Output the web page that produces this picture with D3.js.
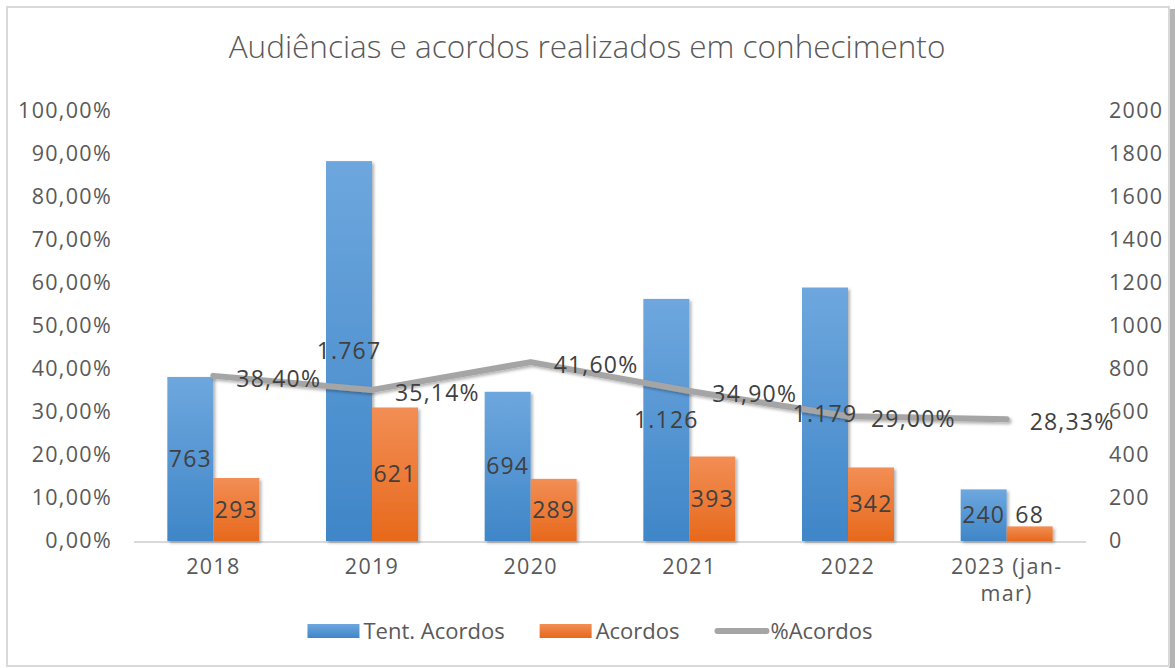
<!DOCTYPE html>
<html>
<head>
<meta charset="utf-8">
<script src="https://cdn.jsdelivr.net/npm/d3@7"></script>
<style>
    body { margin: 0; background: #ffffff; }
    text { font-family: 'Open Sans', sans-serif; }
</style>
</head>
<body>
<div id="chart"></div>
<script>
// data
const years = ['2018', '2019', '2020', '2021', '2022', '2023 (jan-mar)'];
const tentAcordos = [763, 1767, 694, 1126, 1179, 240];
const acordos = [293, 621, 289, 393, 342, 68];
const pctAcordos = [38.40, 35.14, 41.60, 34.90, 29.00, 28.33];
const pctTicks = [0, 0.1, 0.2, 0.3, 0.4, 0.5, 0.6, 0.7, 0.8, 0.9, 1];
const countTicks = [0, 200, 400, 600, 800, 1000, 1200, 1400, 1600, 1800, 2000];
const seriesNames = ['Tent. Acordos', 'Acordos', '%Acordos'];

class ComboChart {

    constructor(_config) {
        this.config = {
            parentElement: _config.parentElement,
            containerWidth: _config.width,
            containerHeight: _config.height,
        }
        this.initVis();
    }

    initVis() {
        let vis = this;
        vis.width = vis.config.containerWidth;
        vis.height = vis.config.containerHeight;
        vis.plot = { left: 134, right: 1086, top: 111, bottom: 541 };

        vis.loc = d3.formatLocale({ decimal: ',', thousands: '.', grouping: [3], currency: ['R$', ''] });
        vis.fmtInt = vis.loc.format(',d');
        vis.fmtPct = (v) => vis.loc.format('.2f')(v) + '%';

        vis.data = years.map((y, i) => ({
            year: y,
            tent: tentAcordos[i],
            acordos: acordos[i],
            pct: pctAcordos[i]
        }));

        vis.svg = d3.select(vis.config.parentElement)
            .append('svg')
            .attr('width', vis.width)
            .attr('height', vis.height);

        let defs = vis.svg.append('defs');
        vis.addGradient(defs, 'grad-blue', '#6ea7de', '#3f86c8');
        vis.addGradient(defs, 'grad-orange', '#f28e55', '#e7691c');
        let shadow = defs.append('filter')
            .attr('id', 'shadow')
            .attr('x', '-20%').attr('y', '-20%')
            .attr('width', '150%').attr('height', '150%');
        shadow.append('feDropShadow')
            .attr('dx', 2).attr('dy', 2)
            .attr('stdDeviation', 1.8)
            .attr('flood-color', '#000')
            .attr('flood-opacity', 0.3);

        // frame
        vis.svg.append('rect')
            .attr('x', 1169).attr('y', 9)
            .attr('width', 6).attr('height', vis.height)
            .attr('fill', '#b4b4b4');
        vis.svg.append('rect')
            .attr('x', 7).attr('y', 7)
            .attr('width', 1162).attr('height', 659)
            .attr('fill', '#ffffff')
            .attr('stroke', '#d9d9d9')
            .attr('stroke-width', 2);

        // scales
        vis.x = d3.scaleBand()
            .domain(years)
            .range([vis.plot.left, vis.plot.right]);
        vis.x1 = d3.scaleBand()
            .domain(['tent', 'acordos'])
            .range([0, vis.x.bandwidth()])
            .paddingInner(0)
            .paddingOuter(0.725);
        vis.yL = d3.scaleLinear()
            .domain([0, 1])
            .range([vis.plot.bottom, vis.plot.top]);
        vis.yR = d3.scaleLinear()
            .domain([0, 2000])
            .range([vis.plot.bottom, vis.plot.top]);

        vis.renderVis();
    }

    addGradient(defs, id, top, bottom) {
        let g = defs.append('linearGradient')
            .attr('id', id)
            .attr('x1', 0).attr('x2', 0)
            .attr('y1', 0).attr('y2', 1);
        g.append('stop').attr('offset', '0%').attr('stop-color', top);
        g.append('stop').attr('offset', '100%').attr('stop-color', bottom);
    }

    renderVis() {
        let vis = this;

        // title
        vis.svg.append('text')
            .attr('x', 587)
            .attr('y', 58)
            .attr('text-anchor', 'middle')
            .style('font-size', '31.5px')
            .style('font-weight', 300)
            .style('fill', '#595959')
            .text('Audiências e acordos realizados em conhecimento');

        // left axis
        let axisL = vis.svg.append('g')
            .attr('transform', `translate(${vis.plot.left},0)`)
            .call(d3.axisLeft(vis.yL).tickValues(pctTicks).tickSize(0).tickPadding(22)
                .tickFormat((d) => vis.fmtPct(d * 100)));
        // right axis
        let axisR = vis.svg.append('g')
            .attr('transform', `translate(${vis.plot.right},0)`)
            .call(d3.axisRight(vis.yR).tickValues(countTicks).tickSize(0).tickPadding(23)
                .tickFormat(d3.format('d')));
        [axisL, axisR].forEach((a) => {
            a.select('.domain').remove();
            a.selectAll('text')
                .style('font-size', '21.5px')
                .style('letter-spacing', '1.3px')
                .style('font-family', "'Open Sans', sans-serif")
                .style('fill', '#595959');
        });

        // bars
        let groups = vis.svg.selectAll('.bar-group')
            .data(vis.data)
            .enter()
            .append('g')
            .attr('class', 'bar-group')
            .attr('transform', (d) => `translate(${vis.x(d.year)},0)`);
        groups.append('rect')
            .attr('x', vis.x1('tent'))
            .attr('y', (d) => vis.yR(d.tent))
            .attr('width', vis.x1.bandwidth())
            .attr('height', (d) => vis.yR(0) - vis.yR(d.tent))
            .attr('fill', 'url(#grad-blue)')
            .attr('filter', 'url(#shadow)');
        groups.append('rect')
            .attr('x', vis.x1('acordos'))
            .attr('y', (d) => vis.yR(d.acordos))
            .attr('width', vis.x1.bandwidth())
            .attr('height', (d) => vis.yR(0) - vis.yR(d.acordos))
            .attr('fill', 'url(#grad-orange)')
            .attr('filter', 'url(#shadow)');

        // x axis line
        vis.svg.append('line')
            .attr('x1', vis.plot.left)
            .attr('x2', vis.plot.right)
            .attr('y1', vis.plot.bottom + 1)
            .attr('y2', vis.plot.bottom + 1)
            .attr('stroke', '#d9d9d9')
            .attr('stroke-width', 2);

        // category labels
        let axisX = vis.svg.append('g')
            .attr('transform', `translate(0,${vis.plot.bottom})`)
            .call(d3.axisBottom(vis.x).tickSize(0).tickPadding(18));
        axisX.select('.domain').remove();
        axisX.selectAll('text')
            .style('font-size', '21.5px')
            .style('letter-spacing', '1.3px')
            .style('font-family', "'Open Sans', sans-serif")
            .style('fill', '#595959')
            .each(function(d) {
                let parts = d.split(/(?<=-)/);
                if (parts.length < 2) return;
                let t = d3.select(this).text(null);
                parts.forEach((p, i) => {
                    t.append('tspan')
                        .attr('x', 0)
                        .attr('dy', i == 0 ? '0.71em' : '1.25em')
                        .text(p);
                });
                t.attr('dy', null);
            });

        // percentage line
        let cx = (d) => vis.x(d.year) + vis.x.bandwidth() / 2;
        let line = d3.line()
            .x((d) => cx(d))
            .y((d) => vis.yL(d.pct / 100));
        vis.svg.append('path')
            .datum(vis.data)
            .attr('d', line)
            .attr('fill', 'none')
            .attr('stroke', '#a5a5a5')
            .attr('stroke-width', 6)
            .attr('stroke-linecap', 'round')
            .attr('stroke-linejoin', 'round')
            .attr('filter', 'url(#shadow)');

        // bar labels (drawn over the line, like the original)
        let labelY = (v) => Math.min((vis.yR(v) + vis.yR(0)) / 2, vis.plot.bottom - 26);
        groups.raise();
        groups.append('text')
            .attr('x', vis.x1('tent') + vis.x1.bandwidth() / 2)
            .attr('y', (d) => labelY(d.tent))
            .attr('dy', '0.35em')
            .attr('text-anchor', 'middle')
            .style('font-size', '23px')
            .style('letter-spacing', '1.2px')
            .style('fill', '#404040')
            .text((d) => vis.fmtInt(d.tent));
        groups.append('text')
            .attr('x', vis.x1('acordos') + vis.x1.bandwidth() / 2)
            .attr('y', (d) => labelY(d.acordos))
            .attr('dy', '0.35em')
            .attr('text-anchor', 'middle')
            .style('font-size', '23px')
            .style('letter-spacing', '1.2px')
            .style('fill', '#404040')
            .text((d) => vis.fmtInt(d.acordos));
        // keep bars under the line: move rects into a lower layer
        let barLayer = vis.svg.insert('g', 'path');
        groups.each(function() {
            let g = d3.select(this);
            let sub = barLayer.append('g').attr('transform', g.attr('transform'));
            g.selectAll('rect').each(function() { sub.node().appendChild(this); });
        });

        vis.svg.selectAll('.pct-label')
            .data(vis.data)
            .enter()
            .append('text')
            .attr('class', 'pct-label')
            .attr('x', (d) => cx(d) + 23)
            .attr('y', (d) => vis.yL(d.pct / 100) + 3)
            .attr('dy', '0.35em')
            .style('font-size', '23px')
            .style('letter-spacing', '1.2px')
            .style('fill', '#404040')
            .text((d) => vis.fmtPct(d.pct));

        vis.renderLegend();
    }

    renderLegend() {
        let vis = this;
        let legend = vis.svg.append('g').attr('class', 'legend');
        let fills = ['url(#grad-blue)', 'url(#grad-orange)', null];
        let xPos = 0;
        seriesNames.forEach((name, i) => {
            let item = legend.append('g').attr('transform', `translate(${xPos},0)`);
            if (fills[i]) {
                item.append('rect')
                    .attr('x', 0).attr('y', -7)
                    .attr('width', 52).attr('height', 14)
                    .attr('fill', fills[i]);
            } else {
                item.append('line')
                    .attr('x1', 3).attr('x2', 52)
                    .attr('y1', 0).attr('y2', 0)
                    .attr('stroke', '#a5a5a5')
                    .attr('stroke-width', 6)
                    .attr('stroke-linecap', 'round');
            }
            let t = item.append('text')
                .attr('x', 56)
                .attr('y', 0)
                .attr('dy', '0.35em')
                .style('font-size', '22px')
                .style('fill', '#595959')
                .text(name);
            xPos += 56 + t.node().getComputedTextLength() + 35;
        });
        let total = xPos - 35;
        legend.attr('transform', `translate(${590 - total / 2},631)`);
    }
}

new ComboChart({ parentElement: '#chart', width: 1175, height: 668 });
</script>
</body>
</html>
